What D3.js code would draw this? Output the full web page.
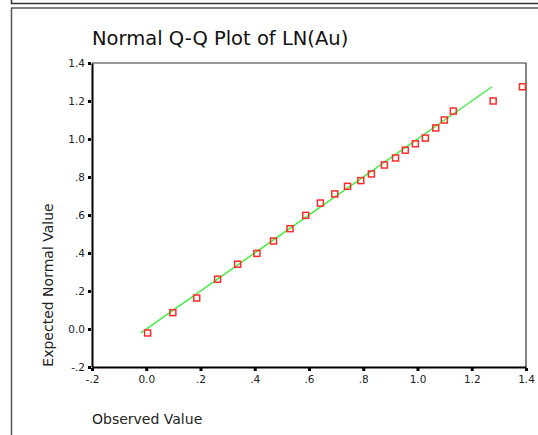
<!DOCTYPE html>
<html><head><meta charset="utf-8">
<script src="https://cdnjs.cloudflare.com/ajax/libs/d3/7.8.5/d3.min.js"></script>
<style>body{margin:0;background:#fff}svg{display:block}</style>
</head><body>
<script>
const observed = [0.005,0.098,0.186,0.263,0.337,0.408,0.469,0.530,0.588,0.642,0.695,0.742,0.791,0.830,0.878,0.919,0.955,0.992,1.029,1.067,1.099,1.132,1.279,1.387];
const expected = [-0.021,0.086,0.163,0.262,0.341,0.398,0.463,0.528,0.598,0.663,0.711,0.751,0.781,0.816,0.863,0.900,0.941,0.975,1.005,1.058,1.100,1.147,1.200,1.275];
const refLine = [-0.02, 1.275];
const ticks = [-0.2,0,0.2,0.4,0.6,0.8,1.0,1.2,1.4];
const tickLabels = ["-.2","0.0",".2",".4",".6",".8","1.0","1.2","1.4"];
const title = "Normal Q-Q Plot of LN(Au)";
const xTitle = "Observed Value";
const yTitle = "Expected Normal Value";

const W=538,H=435;
const svg=d3.select("body").append("svg").attr("width",W).attr("height",H);
const x=d3.scaleLinear().domain([-0.2,1.4]).range([92,526]);
const y=d3.scaleLinear().domain([-0.2,1.4]).range([367,63]);

// outer frames
svg.append("path").attr("d","M11.5,0V3.5H538").attr("fill","none").attr("stroke","#333").attr("stroke-width",1.5);
svg.append("path").attr("d","M538,8H11.5V435").attr("fill","none").attr("stroke","#555").attr("stroke-width",1.5);

// plot frame top/right
svg.append("path").attr("d",`M${x(-0.2)},${y(1.4)}H${x(1.4)}V${y(-0.2)}`).attr("fill","none").attr("stroke","#333").attr("stroke-width",1.2);

const font="'DejaVu Sans', sans-serif";
// axes
const xa=d3.axisBottom(x).tickValues(ticks).tickFormat((d,i)=>tickLabels[i]).tickSize(0).tickPadding(9);
const gx=svg.append("g").attr("transform",`translate(0,${y(-0.2)})`).call(xa);
const ya=d3.axisLeft(y).tickValues(ticks).tickFormat((d,i)=>tickLabels[i]).tickSize(0).tickPadding(7);
const gy=svg.append("g").attr("transform",`translate(${x(-0.2)},0)`).call(ya);
[gx,gy].forEach(g=>{g.select(".domain").attr("stroke","#000").attr("stroke-width",2);
  g.selectAll("text").attr("font-family",font).attr("font-size",10.5).attr("fill","#222");});
// tick dots
gx.selectAll(".tick").append("rect").attr("x",-1.5).attr("y",1).attr("width",3).attr("height",3).attr("fill","#000");
gy.selectAll(".tick").append("rect").attr("x",-4).attr("y",-1.5).attr("width",3).attr("height",3).attr("fill","#000");

// reference line
svg.append("line").attr("x1",x(refLine[0])).attr("y1",y(refLine[0])).attr("x2",x(refLine[1])).attr("y2",y(refLine[1]))
  .attr("stroke","#44ee44").attr("stroke-width",1.5);

// points
svg.append("g").selectAll("rect").data(observed).join("rect")
  .attr("x",(d)=>x(d)-3).attr("y",(d,i)=>y(expected[i])-3).attr("width",6).attr("height",6)
  .attr("fill","none").attr("stroke","#ff2a2a").attr("stroke-width",1.5);

svg.append("text").attr("x",92).attr("y",45).attr("font-family",font).attr("font-size",19.5).attr("fill","#111").text(title);
svg.append("text").attr("x",92).attr("y",424).attr("font-family",font).attr("font-size",14).attr("fill","#222").text(xTitle);
svg.append("text").attr("transform","translate(53,285) rotate(-90)").attr("text-anchor","middle").attr("font-family",font).attr("font-size",14).attr("fill","#222").text(yTitle);
</script>
</body></html>
